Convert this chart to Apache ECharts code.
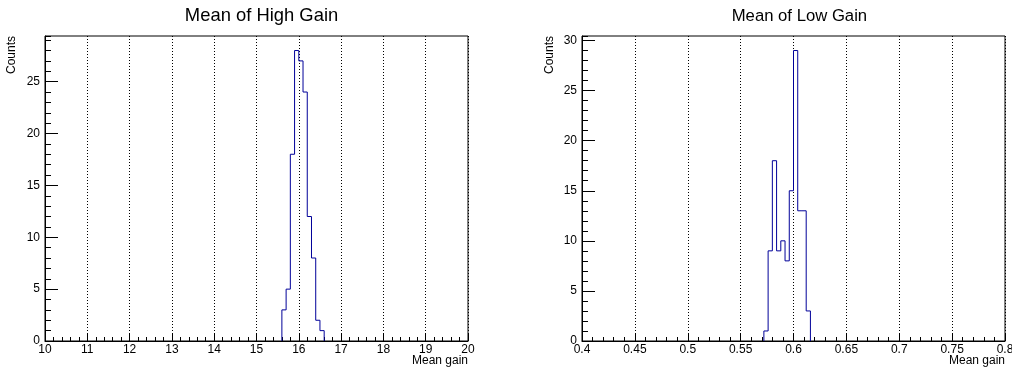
<!DOCTYPE html>
<html>
<head>
<meta charset="utf-8">
<script src="https://cdn.jsdelivr.net/npm/echarts@6/dist/echarts.min.js"></script>
<style>
  html, body { margin: 0; padding: 0; background: #fff; }
  #chart { width: 1012px; height: 374px; }
</style>
</head>
<body>
<div id="chart"></div>
<script>
// histogram contents
var highGainStart = 15.6;
var highGainBinWidth = 0.1;
var highGainCounts = [3, 5, 18, 28, 27, 24, 12, 8, 2, 1];
var highGainX = [10, 20];
var highGainYMax = 29.4;

var lowGainStart = 0.572;
var lowGainBinWidth = 0.004;
var lowGainCounts = [1, 9, 18, 9, 10, 8, 15, 29, 13, 13, 3];
var lowGainX = [0.4, 0.8];
var lowGainYMax = 30.45;

var titles = ["Mean of High Gain", "Mean of Low Gain"];
var xTitle = "Mean gain";
var yTitle = "Counts";

var FONT = "Liberation Sans";
var LINE = "#000099";

// outline of a histogram as points for a step line
function histPoints(start, width, counts) {
  var pts = [[start, 0]];
  for (var i = 0; i < counts.length; i++) {
    pts.push([+(start + i * width).toFixed(6), counts[i]]);
  }
  pts.push([+(start + counts.length * width).toFixed(6), 0]);
  return pts;
}

function xAxisFor(idx, range, interval) {
  return {
    type: "value",
    gridIndex: idx,
    min: range[0],
    max: range[1],
    interval: interval,
    axisLine: { show: true, lineStyle: { color: "#000", width: 1 } },
    axisTick: { show: true, inside: true, length: 8, lineStyle: { color: "#000" } },
    minorTick: { show: true, splitNumber: 5, length: 4, lineStyle: { color: "#000" } },
    axisLabel: { color: "#000", fontFamily: FONT, fontSize: 12, margin: 3 },
    splitLine: { show: true, lineStyle: { color: "#000", width: 1, type: [1, 2] } }
  };
}

function yAxesFor(idx, max) {
  return [
    {
      type: "value",
      gridIndex: idx,
      position: "left",
      min: 0,
      max: max,
      interval: 5,
      axisLine: { show: true, lineStyle: { color: "#000", width: 1 } },
      axisTick: { show: true, inside: true, length: 13, lineStyle: { color: "#000" } },
      axisLabel: { color: "#000", fontFamily: FONT, fontSize: 12, margin: 5, showMaxLabel: false },
      splitLine: { show: false }
    },
    {
      // small ticks every count
      type: "value",
      gridIndex: idx,
      position: "left",
      min: 0,
      max: max,
      interval: 1,
      axisLine: { show: false },
      axisTick: { show: true, inside: true, length: 6, lineStyle: { color: "#000" } },
      axisLabel: { show: false },
      splitLine: { show: false }
    }
  ];
}

function axisText(text, x, y, rotated) {
  return {
    type: "text", x: x, y: y, rotation: rotated ? Math.PI / 2 : 0,
    style: { text: text, fill: "#000", font: "12px " + FONT, align: "right", verticalAlign: "middle" }
  };
}

var chart = echarts.init(document.getElementById("chart"), null, { renderer: "canvas" });

var option = {
  backgroundColor: "#fff",
  animation: false,
  title: [
    {
      text: titles[0], left: "25.35%", top: 2, textAlign: "center",
      textStyle: { color: "#000", fontFamily: FONT, fontSize: 18.4, fontWeight: "normal" }
    },
    {
      text: titles[1], left: "78.5%", top: 3, textAlign: "center",
      textStyle: { color: "#000", fontFamily: FONT, fontSize: 16.7, fontWeight: "normal" }
    }
  ],
  grid: [
    { left: 45, right: 544, top: 36, bottom: 33, outerBoundsMode: "none", containLabel: false,
      show: true, borderColor: "#000", borderWidth: 1 },
    { left: 582, right: 7, top: 36, bottom: 33, outerBoundsMode: "none", containLabel: false,
      show: true, borderColor: "#000", borderWidth: 1 }
  ],
  xAxis: [
    xAxisFor(0, highGainX, 1),
    xAxisFor(1, lowGainX, 0.05)
  ],
  yAxis: yAxesFor(0, highGainYMax).concat(yAxesFor(1, lowGainYMax)),
  graphic: [
    axisText(yTitle, 12, 36, true),
    axisText(yTitle, 550, 36, true),
    axisText(xTitle, 468, 361, false),
    axisText(xTitle, 1005, 361, false)
  ],
  series: [
    {
      type: "line",
      xAxisIndex: 0,
      yAxisIndex: 0,
      step: "end",
      symbol: "none",
      lineStyle: { color: LINE, width: 1 },
      data: histPoints(highGainStart, highGainBinWidth, highGainCounts)
    },
    {
      type: "line",
      xAxisIndex: 1,
      yAxisIndex: 2,
      step: "end",
      symbol: "none",
      lineStyle: { color: LINE, width: 1 },
      data: histPoints(lowGainStart, lowGainBinWidth, lowGainCounts)
    }
  ]
};

chart.setOption(option);
</script>
</body>
</html>
